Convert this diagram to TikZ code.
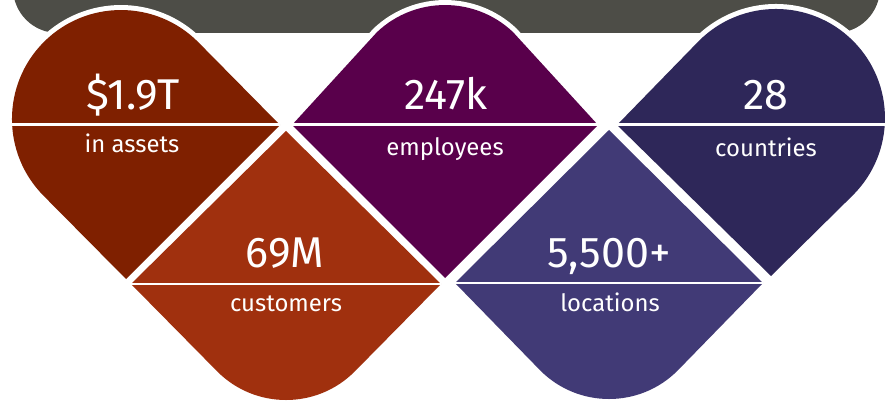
\documentclass[tikz,border=0pt]{standalone}
\usepackage{fontspec}
\setmainfont{Fira Sans}
\usepackage{tikz}

\definecolor{bargrey}{HTML}{4D4D47}
\definecolor{assetsred}{HTML}{7F2000}
\definecolor{staffpurple}{HTML}{59004B}
\definecolor{countrynavy}{HTML}{2E2759}
\definecolor{clientorange}{HTML}{A0300E}
\definecolor{siteviolet}{HTML}{413A76}

\begin{document}
\begin{tikzpicture}[x=0.02cm,y=-0.02cm,line join=round,
    petal/.style={fill=#1,preaction={draw=white,line width=0.2cm}},
    divider/.style={draw=white,line width=0.06cm},
    bignum/.style={text=white,anchor=base,font=\fontsize{24.5}{28}\selectfont},
    smalltxt/.style={text=white,anchor=base,font=\fontsize{13.6}{16}\selectfont}]
        \useasboundingbox (0,0) rectangle (890,402);
        \clip (0,0) rectangle (890,402);
        \fill[bargrey,rounded corners=0.9cm] (13,-60) rectangle (880,33);
        \path[petal=assetsred] (280,125) -- (126,279) -- (43.9,196.1)
            arc[start angle=135,end angle=315,radius=109] -- cycle;
        \path[petal=staffpurple] (292,125) -- (377,32.1)
            arc[start angle=226.6,end angle=313.4,radius=99] -- (598,125) -- (445,278) -- cycle;
        \path[petal=countrynavy] (617,125) -- (698.9,40.9)
            arc[start angle=225,end angle=405,radius=109] -- (771,276) -- cycle;
        \path[petal=clientorange] (286,131) -- (441,284) -- (354.6,371.6)
            arc[start angle=45,end angle=135,radius=97] -- (131,284) -- cycle;
        \path[petal=siteviolet] (609,130) -- (763,283) -- (677.6,370.6)
            arc[start angle=45,end angle=135,radius=97] -- (455,283) -- cycle;
        \coordinate (assetsL) at (12.2,125);
        \coordinate (assetsR) at (280,125);
        \coordinate (staffL) at (292,125);
        \coordinate (staffR) at (598,125);
        \coordinate (countryL) at (617,125);
        \coordinate (countryR) at (884.8,125);
        \coordinate (clientL) at (131,284);
        \coordinate (clientR) at (441,284);
        \coordinate (siteL) at (455,283);
        \coordinate (siteR) at (763,283);
        \draw[divider] (assetsL) -- (assetsR);
        \draw[divider] (staffL) -- (staffR);
        \draw[divider] (countryL) -- (countryR);
        \draw[divider] (clientL) -- (clientR);
        \draw[divider] (siteL) -- (siteR);
        \node[bignum] (assetsnum) at (133,110) {\$1.9T};
        \node[smalltxt] (assetstxt) at (132,153) {in assets};
        \node[bignum] (staffnum) at (446,110) {247k};
        \node[smalltxt] (stafftxt) at (445,155) {employees};
        \node[bignum] (countrynum) at (766,110) {28};
        \node[smalltxt] (countrytxt) at (766,157) {countries};
        \node[bignum] (clientnum) at (285,268) {69M};
        \node[smalltxt] (clienttxt) at (286,312) {customers};
        \node[bignum] (sitenum) at (609,268) {5,500+};
        \node[smalltxt] (sitetxt) at (610,312) {locations};
\end{tikzpicture}
\end{document}
